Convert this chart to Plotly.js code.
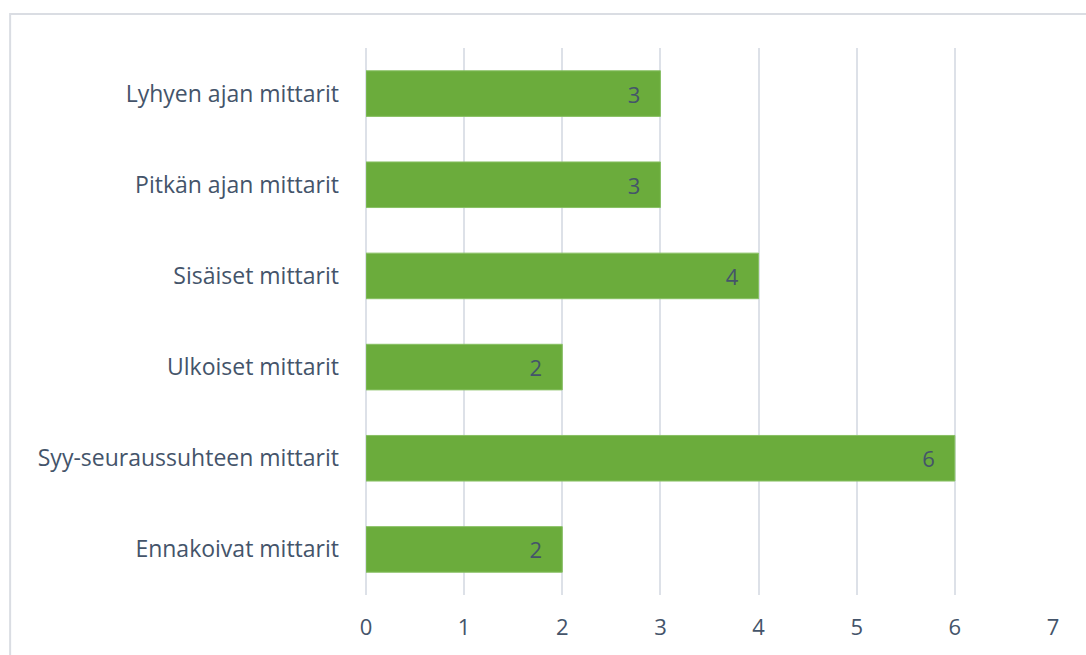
<!DOCTYPE html>
<html><head><meta charset="utf-8">
<script src="https://cdn.plot.ly/plotly-3.0.1.min.js"></script>
<style>html,body{margin:0;padding:0;background:#fff;}#chart{width:1086px;height:655px;}</style>
</head><body><div id="chart"></div>
<script>
const categories = ["Ennakoivat mittarit","Syy-seuraussuhteen mittarit","Ulkoiset mittarit","Sisäiset mittarit","Pitkän ajan mittarit","Lyhyen ajan mittarit"];
const values = [2, 6, 2, 4, 3, 3];
const tickVals = [0,1,2,3,4,5,6,7];

const FONT = 'Open Sans, Liberation Sans, Arial, sans-serif';
const trace = {
  type: 'bar', orientation: 'h',
  y: categories, x: values,
  text: values.map(v => v + '\u00a0\u00a0\u00a0'),
  textposition: 'inside', insidetextanchor: 'end',
  textfont: {family: FONT, size: 22, color: '#44546a'},
  marker: {color: '#6bac3c', line: {color: '#88c064', width: 1}},
  width: 0.5, hoverinfo: 'skip', cliponaxis: false
};
const layout = {
  width: 1086, height: 655,
  margin: {l: 366, r: 33, t: 48, b: 60},
  paper_bgcolor: '#fff', plot_bgcolor: '#fff',
  showlegend: false,
  xaxis: {range: [0, 7], tickvals: tickVals, showgrid: true, gridcolor: '#dde1e8', gridwidth: 2,
          zeroline: true, zerolinecolor: '#dde1e8', zerolinewidth: 2, showline: false, ticks: '', ticklen: 0,
          ticklabelstandoff: 17,
          tickfont: {family: FONT, size: 22, color: '#44546a'}},
  yaxis: {showgrid: false, zeroline: false, showline: false, ticks: '', ticklabelstandoff: 26,
          tickfont: {family: FONT, size: 23, color: '#44546a'}},
  shapes: [{type: 'rect', xref: 'paper', yref: 'paper', x0: -0.518, x1: 2, y0: -1, y1: 1.062,
            line: {color: '#dadde3', width: 2}, fillcolor: 'rgba(0,0,0,0)', layer: 'below'}]
};
Plotly.newPlot('chart', [trace], layout, {displayModeBar: false, staticPlot: true});
</script></body></html>
